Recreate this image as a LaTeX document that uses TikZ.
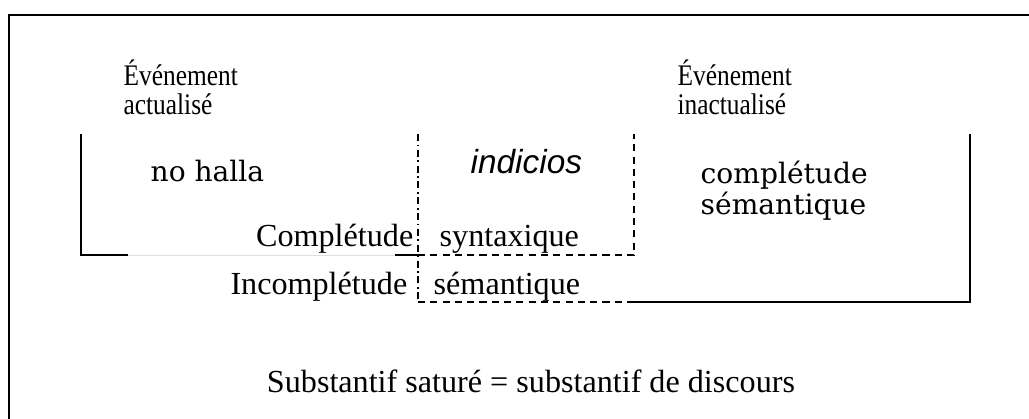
\documentclass[tikz,border=0pt]{standalone}
\usepackage{fontspec}
\setmainfont{Liberation Serif}
\newfontfamily\slab{DejaVu Serif}
\newfontfamily\sansit{Liberation Sans}
\usetikzlibrary{positioning}

\begin{document}
\begin{tikzpicture}[x=0.02cm,y=-0.02cm,line width=0.8pt,
    txt/.style={inner sep=0pt,font=\fontsize{18.3}{20}\selectfont},
    lbl/.style={inner sep=0pt,align=left,xscale=0.85,transform shape,font=\fontsize{17}{16}\selectfont},
    slabtxt/.style={inner sep=0pt,align=left,font=\slab\fontsize{16}{17.6}\selectfont},
    dashline/.style={dash pattern=on 4pt off 3pt},
    dotline/.style={dash pattern=on 4pt off 2pt on 1pt off 2pt}]
        \useasboundingbox (0,0) rectangle (1029,419);
        % outer frame
        \draw (9,430) -- (9,15) -- (1040,15);
        % corners
        \coordinate (tl) at (81,134);
        \coordinate (bl) at (81,255);
        \coordinate (gs) at (128,255);
        \coordinate (ge) at (395,255);
        \coordinate (mt) at (418,134);
        \coordinate (mm) at (418,255);
        \coordinate (mb) at (418,302);
        \coordinate (rt) at (634,134);
        \coordinate (rm) at (634,255);
        \coordinate (rb) at (634,302);
        \coordinate (ft) at (970,134);
        \coordinate (fb) at (970,302);
        \draw (tl) -- (bl) -- (gs);
        \draw[gray!25,line width=0.5pt] (gs) -- (ge);
        \draw (ge) -- (mm);
        \draw[dashline] (mm) -- (rm) -- (rt);
        \draw[dotline] (mt) -- (mb);
        \draw[dashline] (mb) -- (rb);
        \draw (rb) -- (fb) -- (ft);
        % texts
        \node[lbl,anchor=base west] (actu) at (123,114) {Événement\\actualisé};
        \node[lbl,anchor=base west] (inactu) at (677,114) {Événement\\inactualisé};
        \node[slabtxt,anchor=base west] (halla) at (150,181) {no halla};
        \node[inner sep=0pt,anchor=base west,font=\sansit\itshape\fontsize{19}{20}\selectfont] (indic) at (470,173) {indicios};
        \node[slabtxt,anchor=base west] (compl) at (700,214) {complétude\\sémantique};
        \node[txt,anchor=base east] (csyn) at (414,246) {Complétude};
        \node[txt,anchor=base west] (syn) at (439,246) {syntaxique};
        \node[txt,anchor=base east] (incs) at (408,294) {Incomplétude};
        \node[txt,anchor=base west] (sem) at (433,294) {sémantique};
        \node[txt,anchor=base] (subst) at (531,392) {Substantif saturé = substantif de discours};
    \end{tikzpicture}
\end{document}
